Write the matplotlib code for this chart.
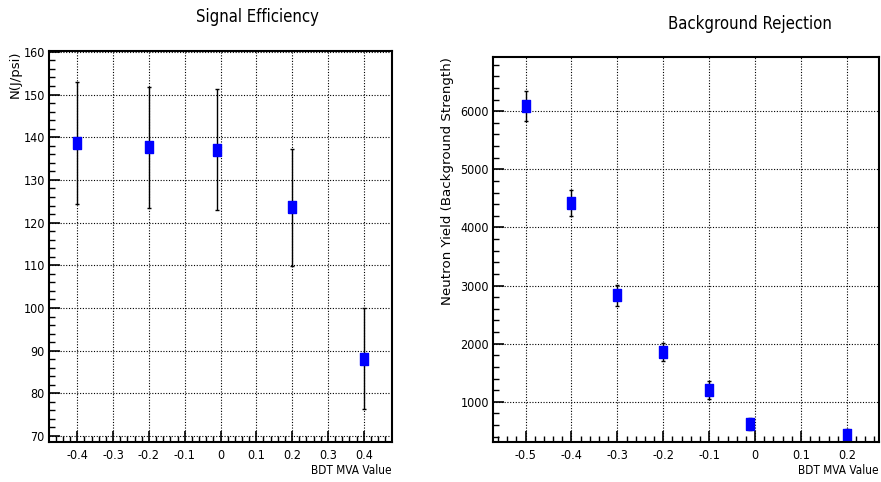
import matplotlib
matplotlib.use("Agg")
import matplotlib.pyplot as plt
from matplotlib import font_manager
from matplotlib.ticker import MultipleLocator

# narrow font like the ROOT canvas, if one is around
narrow = {'family': 'Liberation Sans'}
for fam, st in [('Liberation Sans Narrow', 'normal'), ('DejaVu Sans', 'condensed')]:
    try:
        fp = font_manager.FontProperties(family=fam, stretch=st)
        f = font_manager.findfont(fp, fallback_to_default=False)
    except Exception:
        continue
    if 'Narrow' in f or 'Condensed' in f:
        narrow = {'family': fam, 'stretch': st}
        break

# signal efficiency panel
sig_x = [-0.4, -0.2, -0.01, 0.2, 0.4]
sig_y = [138.6, 137.6, 137.1, 123.6, 88.1]
sig_err = [14.3, 14.1, 14.1, 13.7, 11.8]

# background rejection panel
bkg_x = [-0.5, -0.4, -0.3, -0.2, -0.1, -0.01, 0.2]
bkg_y = [6086, 4425, 2833, 1859, 1207, 616, 433]
bkg_err = [255, 222, 178, 150, 158, 100, 103]

fig = plt.figure(figsize=(8.81, 4.82), dpi=100)
fig.set_facecolor('white')

# slightly tall square, as in the stretched canvas
rect = [(-0.32, -0.5), (0.32, -0.5), (0.32, 0.5), (-0.32, 0.5), (-0.32, -0.5)]


def root_style(ax, xmaj, xmin, ymaj, ymin):
    ax.xaxis.set_major_locator(MultipleLocator(xmaj))
    ax.xaxis.set_minor_locator(MultipleLocator(xmin))
    ax.yaxis.set_major_locator(MultipleLocator(ymaj))
    ax.yaxis.set_minor_locator(MultipleLocator(ymin))
    ax.tick_params(which='both', direction='in', top=False, right=False, labelsize=9, pad=3)
    ax.tick_params(axis='x', pad=5)
    ax.tick_params(which='major', length=8, width=1.2)
    ax.tick_params(which='minor', length=4, width=1.0)
    ax.grid(True, which='major', linestyle=(0, (1, 1.5)), color='black', linewidth=0.8)
    for s in ax.spines.values():
        s.set_linewidth(1.5)
    ax.set_axisbelow(True)


def style_labels(ax):
    for lab in ax.get_xticklabels() + ax.get_yticklabels():
        lab.set_family(narrow['family'])
        if 'stretch' in narrow:
            lab.set_stretch(narrow['stretch'])


def fmt(v):
    s = ('%.1f' % v)
    if s in ('0.0', '-0.0'):
        return '0'
    return s


ax1 = fig.add_axes([49 / 881, 1 - 442 / 482, (392 - 49) / 881, (442 - 51) / 482])
ax1.errorbar(sig_x, sig_y, yerr=sig_err, fmt='none', ecolor='black',
             elinewidth=1.0, capsize=1.5, capthick=1.0)
ax1.plot(sig_x, sig_y, ls='none', marker=rect, ms=8, color='blue', mec='blue')
ax1.set_xlim(-0.479, 0.479)
ax1.set_ylim(68.6, 160.2)
root_style(ax1, 0.1, 0.02, 10, 2)
xt1 = [-0.4, -0.3, -0.2, -0.1, 0, 0.1, 0.2, 0.3, 0.4]
ax1.set_xticks(xt1)
ax1.set_xticklabels([fmt(v) for v in xt1])
style_labels(ax1)
fig.text(257 / 881, 1 - 17 / 482, 'Signal Efficiency', ha='center', va='center', fontsize=12, **narrow)
fig.text(392 / 881, 1 - 470 / 482, 'BDT MVA Value', ha='right', va='center', fontsize=8.5, **narrow)
fig.text(15 / 881, 1 - 51 / 482, 'N(J/psi)', ha='center', va='top', rotation=90,
         fontsize=9.5, family='DejaVu Sans')

ax2 = fig.add_axes([493 / 881, 1 - 442 / 482, (879 - 493) / 881, (442 - 57) / 482])
ax2.errorbar(bkg_x, bkg_y, yerr=bkg_err, fmt='none', ecolor='black',
             elinewidth=1.0, capsize=1.5, capthick=1.0)
ax2.plot(bkg_x, bkg_y, ls='none', marker=rect, ms=8, color='blue', mec='blue')
ax2.set_xlim(-0.571, 0.270)
ax2.set_ylim(307, 6934)
root_style(ax2, 0.1, 0.02, 1000, 200)
xt2 = [-0.5, -0.4, -0.3, -0.2, -0.1, 0, 0.1, 0.2]
ax2.set_xticks(xt2)
ax2.set_xticklabels([fmt(v) for v in xt2])
ax2.set_yticks([1000, 2000, 3000, 4000, 5000, 6000])
style_labels(ax2)
fig.text(750 / 881, 1 - 24 / 482, 'Background Rejection', ha='center', va='center', fontsize=12, **narrow)
fig.text(879 / 881, 1 - 470 / 482, 'BDT MVA Value', ha='right', va='center', fontsize=8.5, **narrow)
fig.text(448 / 881, 1 - 57 / 482, 'Neutron Yield (Background Strength)', ha='center', va='top',
         rotation=90, fontsize=9.6, family='DejaVu Sans')

fig.savefig('out.png', dpi=100)
